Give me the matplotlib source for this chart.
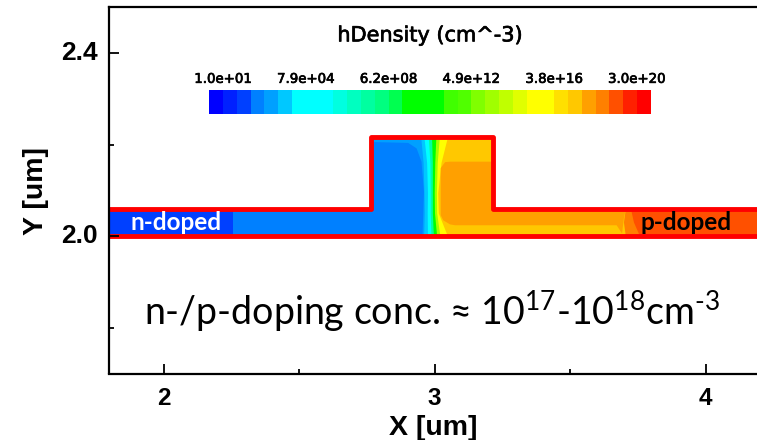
import numpy as np
import matplotlib
matplotlib.use("Agg")
import matplotlib.pyplot as plt
import matplotlib.patheffects as pe
from matplotlib.colors import ListedColormap
from matplotlib.patches import Polygon

plt.rcParams['mathtext.fontset'] = 'custom'
plt.rcParams['mathtext.rm'] = 'Lato'
plt.rcParams['mathtext.default'] = 'rm'

# device outline in um
outline_x = [1.70, 2.765, 2.765, 3.215, 3.215, 4.30, 4.30, 1.70, 1.70]
outline_y = [2.059, 2.059, 2.218, 2.218, 2.059, 2.059, 2.0, 2.0, 2.059]

# colour bar, cell by cell
bar_colors = ["#0000ff", "#0020ff", "#0040ff", "#0080ff", "#00a0ff", "#00c8ff",
              "#00ffff", "#00ffff", "#00ffff", "#00ffe0", "#00ffc0", "#00ffa0",
              "#00ff80", "#00ff50", "#00ff00", "#00ff00", "#00ff00", "#40ff00",
              "#50ff00", "#80ff00", "#a0ff00", "#c0ff00", "#e0ff00", "#ffff00",
              "#ffff00", "#ffe000", "#ffc800", "#ffa000", "#ff8000", "#ff5000",
              "#ff2000", "#ff0000"]
bar_ticks = [1, 7, 13, 19, 25, 31]
bar_labels = ["1.0e+01", "7.9e+04", "6.2e+08", "4.9e+12", "3.8e+16", "3.0e+20"]

# level index of each region, read against the colour bar
n_patch_level = 2
n_body_level = 3
n_edge_level = 4
p_body_level = 27
p_edge_level = 28
p_contact_level = 29

# curved contours across the junction: x at each height
junction_y = [2.218, 2.161, 2.095, 2.051, 2.0]
junction_levels = [5, 7, 11, 15, 20, 23, 26]
junction_x = [
    [2.949, 2.958, 2.961, 2.962, 2.960],
    [2.961, 2.971, 2.974, 2.973, 2.974],
    [2.977, 2.983, 2.984, 2.984, 2.987],
    [2.989, 2.992, 2.992, 2.992, 2.996],
    [3.005, 3.001, 2.999, 3.000, 3.008],
    [3.018, 3.010, 3.007, 3.008, 3.020],
    [3.048, 3.024, 3.012, 3.014, 3.048],
]

# filled contour regions in um
n_body_x = [2.70, 2.765, 2.903, 2.934, 2.952, 2.961, 2.956, 2.956, 1.70, 1.70, 2.70]
n_body_y = [2.206, 2.206, 2.204, 2.192, 2.163, 2.097, 2.006, 2.0, 2.0, 2.059, 2.059]
n_patch_x = [1.70, 2.255, 2.255, 1.70]
n_patch_y = [2.055, 2.055, 2.004, 2.004]
p_body_x = [3.023, 3.023, 3.039, 3.057, 3.30, 3.30, 3.706, 3.699, 3.692, 3.672, 3.076, 3.057, 3.032]
p_body_y = [2.046, 2.149, 2.162, 2.163, 2.163, 2.059, 2.059, 2.04, 2.006, 2.024, 2.024, 2.026, 2.035]
p_edge_x = [3.695, 4.30, 4.30, 3.706, 3.699, 3.706]
p_edge_y = [2.059, 2.059, 2.0, 2.0, 2.03, 2.059]
p_contact_x = [3.725, 4.30, 4.30, 3.758, 3.736]
p_contact_y = [2.059, 2.059, 2.0, 2.0, 2.03]

cmap = ListedColormap(bar_colors)

fig = plt.figure(figsize=(7.57, 4.40), dpi=100)
ax = fig.add_axes([109.3 / 757, 1 - 373.5 / 440, (757 - 109.3) / 757, 366 / 440])
ax.set_xlim(1.8, 4.19)
ax.set_ylim(1.70, 2.50)

# clip all the contours to the device shape
device = Polygon(np.column_stack([outline_x, outline_y]), closed=True,
                 transform=ax.transData, facecolor='none', edgecolor='none')
ax.add_patch(device)

regions = [ax.fill(outline_x, outline_y, color=bar_colors[n_edge_level], lw=0)[0],
           ax.fill(n_body_x, n_body_y, color=bar_colors[n_body_level], lw=0)[0]]
for lev, xs in zip(junction_levels, junction_x):
    regions.append(ax.fill_betweenx(junction_y, xs, 4.30, color=bar_colors[lev], lw=0))
regions.append(ax.fill(p_body_x, p_body_y, color=bar_colors[p_body_level], lw=0)[0])
regions.append(ax.fill(p_edge_x, p_edge_y, color=bar_colors[p_edge_level], lw=0)[0])
regions.append(ax.fill(p_contact_x, p_contact_y, color=bar_colors[p_contact_level], lw=0)[0])
regions.append(ax.fill(n_patch_x, n_patch_y, color=bar_colors[n_patch_level], lw=0)[0])
for r in regions:
    r.set_clip_path(device)

ax.plot(outline_x, outline_y, color='#ff0000', lw=3.5, solid_joinstyle='round')

ax.text(2.048, 2.03, "n-doped", color='white', fontsize=17.5, fontweight='bold',
        family='Lato', ha='center', va='center')
ax.text(3.928, 2.03, "p-doped", color='black', fontsize=17.5, fontweight='bold',
        family='Lato', ha='center', va='center')
ax.text(2.992, 1.835, "n-/p-doping conc. ≈ 10$^{17}$-10$^{18}$cm$^{\u2010 3}$",
        color='black', fontsize=27, family=['Lato', 'DejaVu Sans'], ha='center', va='center')

# axes
ax.spines['right'].set_visible(False)
for s in ['left', 'top', 'bottom']:
    ax.spines[s].set_linewidth(1.6)
ax.set_axisbelow(False)
ax.set_xticks([2, 3, 4])
ax.set_xticks([2.5, 3.5], minor=True)
ax.set_yticks([2.0, 2.4])
ax.set_yticks([1.8, 2.2], minor=True)
ax.tick_params(which='major', direction='in', length=7.2, width=1.3)
ax.tick_params(which='minor', direction='in', length=3.6, width=1.3)
ax.set_xticklabels(["2", "3", "4"], fontsize=17.5, fontweight='bold', family='Liberation Sans')
ax.set_yticklabels(["2.0", "2.4"], fontsize=19, fontweight='bold', family='Liberation Sans', va='center')
ax.tick_params(axis='x', which='major', pad=10)
ax.tick_params(axis='y', which='major', pad=8)
ax.set_xlabel("X [um]", fontsize=20.5, fontweight='bold', family='Liberation Sans', labelpad=3)
ax.set_ylabel("Y [um]", fontsize=20.5, fontweight='bold', family='Liberation Sans', labelpad=9)

# colour bar drawn as its own axes
cax = fig.add_axes([209.3 / 757, 1 - 114 / 440, 441.4 / 757, 24 / 440])
cax.pcolormesh(np.arange(len(bar_colors) + 1), [0, 1],
               np.arange(len(bar_colors)).reshape(1, -1), cmap=cmap)
cax.set_yticks([])
cax.xaxis.tick_top()
cax.set_xticks(bar_ticks)
cax.set_xticklabels(bar_labels, fontsize=9.6)
cax.tick_params(axis='x', length=0, pad=3)
for s in cax.spines.values():
    s.set_visible(False)
title = cax.set_title("hDensity (cm^-3)", fontsize=15, pad=35, x=0.5)

# the colour bar text is a bit heavier than regular weight
thicker = [pe.withStroke(linewidth=0.5, foreground='black')]
title.set_path_effects(thicker)
for lab in cax.get_xticklabels():
    lab.set_path_effects(thicker)

fig.savefig("out.png", dpi=100)
